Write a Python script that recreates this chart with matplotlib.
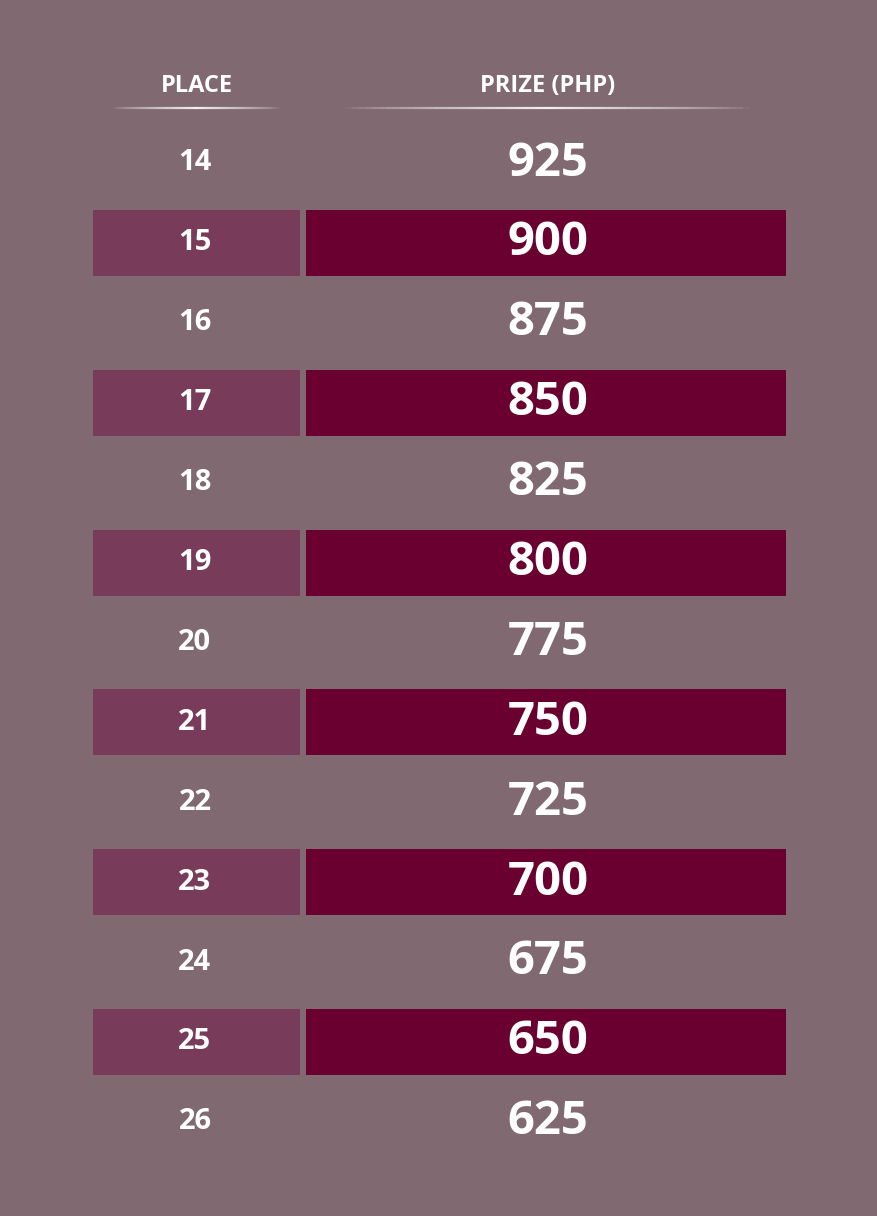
import matplotlib
matplotlib.use('Agg')
import matplotlib.pyplot as plt
import numpy as np

places = [14, 15, 16, 17, 18, 19, 20, 21, 22, 23, 24, 25, 26]
prizes = [925, 900, 875, 850, 825, 800, 775, 750, 725, 700, 675, 650, 625]
headers = ['PLACE', 'PRIZE (PHP)']

bg = '#806970'
place_band = '#783c5a'
prize_band = '#6a0030'

fig = plt.figure(figsize=(8.78, 12.16), dpi=100, facecolor=bg)
ax = fig.add_axes([0, 0, 1, 1])
ax.set_xlim(0, 878)
ax.set_ylim(1216, 0)
ax.axis('off')
ax.set_facecolor(bg)

font = 'Open Sans'
row_y = 163 + 79.9 * np.arange(len(places))

# headers with fading underline
for text, xc, x0, x1 in [(headers[0], 197, 113, 280), (headers[1], 548, 345, 750)]:
    ax.text(xc, 86, '\u2009'.join(text) if False else text, ha='center', va='center',
            color='white', fontsize=17, fontweight='bold', family=font)
    xs = np.linspace(x0, x1, 60)
    for a, b in zip(xs[:-1], xs[1:]):
        t = abs((a + b) / 2 - (x0 + x1) / 2) / ((x1 - x0) / 2)
        ax.plot([a, b], [108, 108], color='white', lw=1.6, alpha=0.9 * (1 - t) ** 0.7,
                solid_capstyle='butt')

for i, (p, v) in enumerate(zip(places, prizes)):
    y = row_y[i]
    if i % 2 == 1:
        ax.add_patch(plt.Rectangle((93, y - 33), 207, 66, color=place_band, lw=0))
        ax.add_patch(plt.Rectangle((306, y - 33), 480, 66, color=prize_band, lw=0))
    ax.text(195, y, str(p), ha='center', va='center', color='white',
            fontsize=21, fontweight='bold', family=font)
    ax.text(548, y, str(v), ha='center', va='center', color='white',
            fontsize=34, fontweight='bold', family=font)

fig.savefig('out.png', dpi=100, facecolor=bg)
